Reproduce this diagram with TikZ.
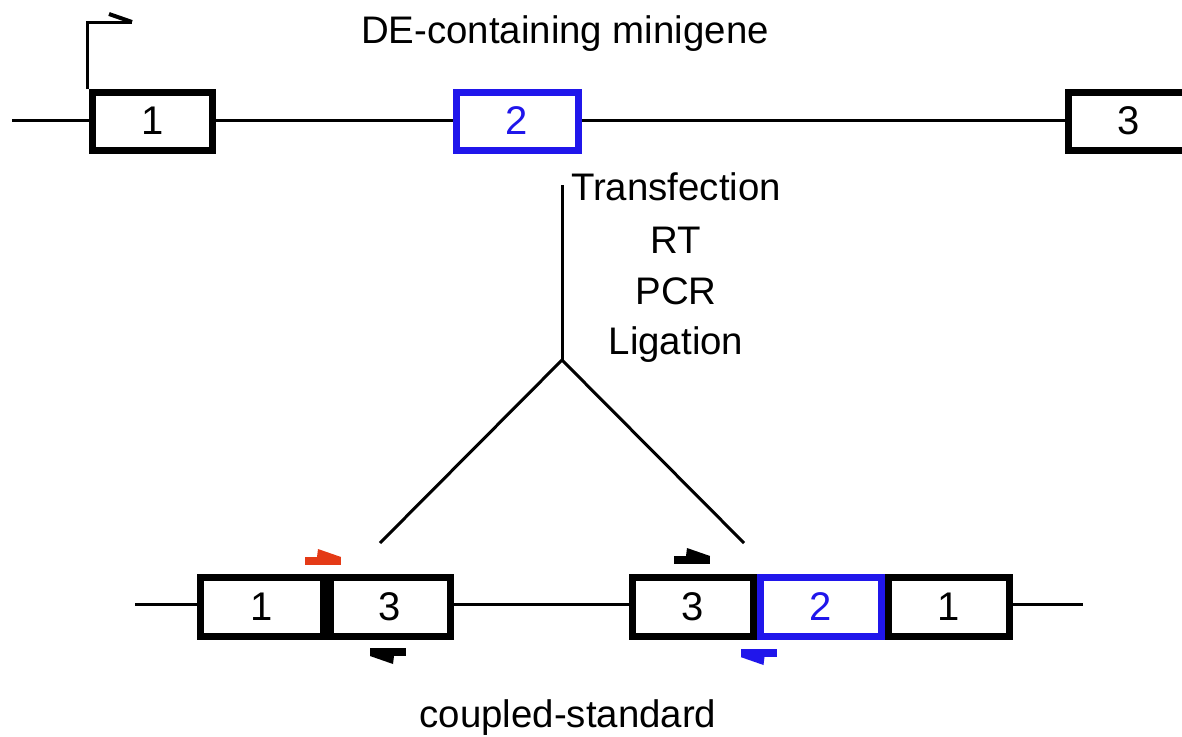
\documentclass[tikz,border=0pt]{standalone}
\usepackage{fontspec}
\setmainfont{Liberation Sans}
\definecolor{exblue}{RGB}{32,22,235}
\definecolor{primred}{RGB}{228,58,22}
\tikzset{
  exon/.style={draw=black, fill=white, line width=7pt, inner sep=0pt, minimum height=58pt, font=\fontsize{40}{42}\selectfont},
  exonb/.style={exon, draw=exblue, text=exblue},
  intron/.style={line width=3pt},
  lbl/.style={font=\fontsize{38.4}{41}\selectfont, inner sep=0pt, anchor=base},
  primer/.pic={\fill (-18,-4) rectangle (18,4); \fill (18,-4) -- (-5,-12) -- (-6,-4) -- cycle;}
}
\begin{document}
\begin{tikzpicture}[x=1pt,y=-1pt]
\useasboundingbox (0,0) rectangle (1182,736);
\clip (0,0) rectangle (1182,736);
% top minigene
\coordinate (tstart) at (12,120);
\coordinate (tend) at (1100,120);
\draw[intron] (tstart) -- (tend);
\node[exon, minimum width=120pt] (e1t) at (152.5,121) {1};
\node[exonb, minimum width=122pt] (e2t) at (517,121) {2};
\node[exon, minimum width=122pt] (e3t) at (1129,121) {3};
% promoter arrow
\coordinate (pbase) at (87,89);
\coordinate (pcorner) at (87,22);
\coordinate (ptip) at (132,22);
\coordinate (pbarb) at (109,14);
\draw[line width=3pt] (pbase) -- (pcorner) -- (ptip);
\draw[line width=4pt] (pbarb) -- (ptip);
\node[lbl] (title) at (565,43) {DE-containing minigene};
% steps
\node[lbl] (s1) at (676,200) {Transfection};
\node[lbl] (s2) at (676,253) {RT};
\node[lbl] (s3) at (676,304) {PCR};
\node[lbl] (s4) at (676,354) {Ligation};
\coordinate (stem) at (562,185);
\coordinate (fork) at (562,360);
\coordinate (legL) at (380,543);
\coordinate (legR) at (744,543);
\draw[intron] (stem) -- (fork);
\draw[intron] (legL) -- (fork) -- (legR);
% bottom products
\coordinate (bstart) at (135,604);
\coordinate (bend) at (1083,604);
\draw[intron] (bstart) -- (bend);
\node[exon, minimum width=123pt, minimum height=59pt] (b1a) at (261.5,607) {1};
\node[exon, minimum width=120pt, minimum height=59pt] (b3a) at (390,607) {3};
\node[exon, minimum width=121.5pt, minimum height=59pt] (b3b) at (693,607) {3};
\node[exon, minimum width=121.5pt, minimum height=59pt] (b1b) at (949,607) {1};
\node[exonb, minimum width=121.5pt, minimum height=59pt] (b2b) at (821,607) {2};
% primers
\pic[primred] (pr1) at (323,561) {primer};
\pic[black, rotate=180] (pr2) at (388,652) {primer};
\pic[black] (pr3) at (692,560) {primer};
\pic[exblue, rotate=180] (pr4) at (758.5,653) {primer};
\node[lbl] (caption) at (568,727) {coupled-standard};
\end{tikzpicture}
\end{document}
